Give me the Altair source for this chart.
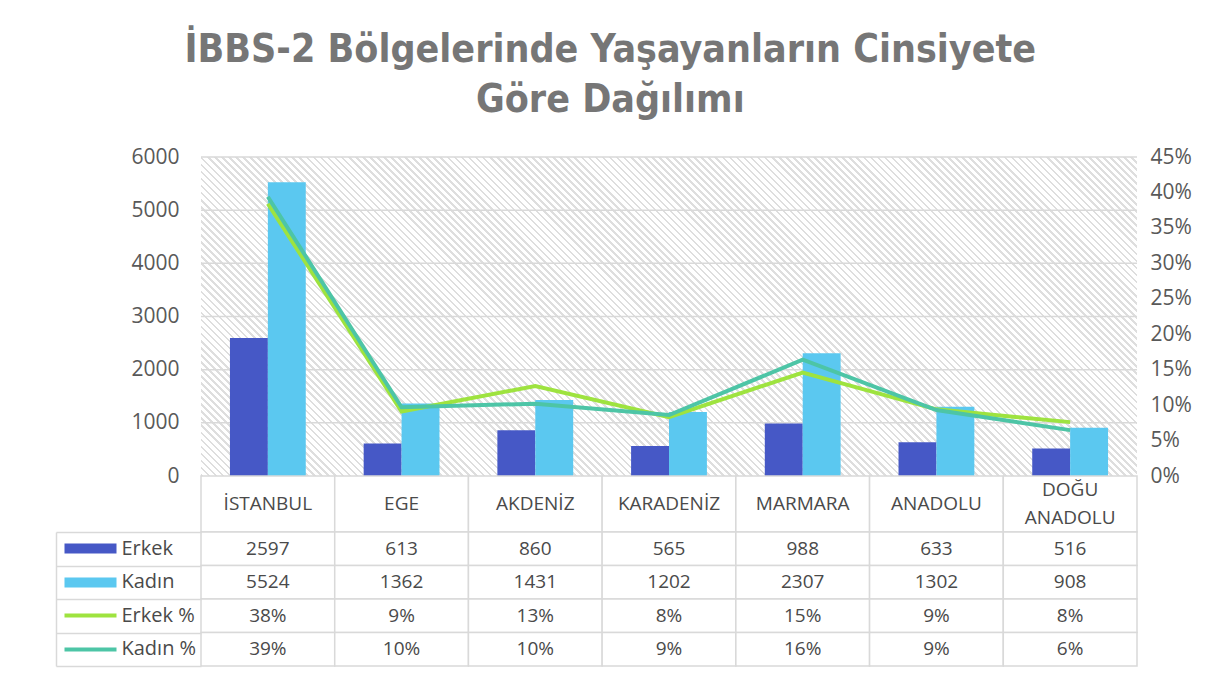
import altair as alt
import pandas as pd

# ---------------- data ----------------
regions = ["İSTANBUL", "EGE", "AKDENİZ", "KARADENİZ", "MARMARA", "ANADOLU", "DOĞU ANADOLU"]
erkek = [2597, 613, 860, 565, 988, 633, 516]
kadin = [5524, 1362, 1431, 1202, 2307, 1302, 908]
erkek_pct = [0.384, 0.091, 0.127, 0.083, 0.146, 0.094, 0.076]
kadin_pct = [0.394, 0.097, 0.102, 0.086, 0.164, 0.093, 0.0647]
series = ["Erkek", "Kadın", "Erkek %", "Kadın %"]
colors = ["#4658c6", "#5bc8f0", "#9ee33f", "#4dc5a6"]
left_ticks = [0, 1000, 2000, 3000, 4000, 5000, 6000]
right_ticks = [0, 0.05, 0.10, 0.15, 0.20, 0.25, 0.30, 0.35, 0.40, 0.45]

bar_df = pd.DataFrame(
    [{"region": r, "series": "Erkek", "value": v} for r, v in zip(regions, erkek)]
    + [{"region": r, "series": "Kadın", "value": v} for r, v in zip(regions, kadin)]
)
line_e_df = pd.DataFrame({"region": regions, "series": "Erkek %", "pct": erkek_pct})
line_k_df = pd.DataFrame({"region": regions, "series": "Kadın %", "pct": kadin_pct})
grid_df = pd.DataFrame({"value": left_ticks[1:]})

rows = series
body_df = pd.DataFrame(
    [{"row": "Erkek", "region": r, "txt": str(v)} for r, v in zip(regions, erkek)]
    + [{"row": "Kadın", "region": r, "txt": str(v)} for r, v in zip(regions, kadin)]
    + [{"row": "Erkek %", "region": r, "txt": f"{round(v * 100)}%"} for r, v in zip(regions, erkek_pct)]
    + [{"row": "Kadın %", "region": r, "txt": f"{round(v * 100)}%"} for r, v in zip(regions, kadin_pct)]
)
hdr_df = pd.DataFrame({"region": regions})

# ---------------- styling ----------------
W, H = 936, 319
HDR_H, BODY_H = 56, 134
FONT = "Open Sans"
TXT = "#595959"
TAB_TXT = "#4a4a4a"
GRID = "#d9d9d9"

# diagonal hatch for the plot background, as a striped linear gradient
N = 178
s = (W + H) / (W * W + H * H)
stops = []
for k in range(N):
    a, b, c = k / N, (k + 0.38) / N, (k + 1) / N
    stops += [
        {"offset": a, "color": "#dedede"},
        {"offset": b, "color": "#dedede"},
        {"offset": b, "color": "#ffffff"},
        {"offset": c, "color": "#ffffff"},
    ]
hatch = {"gradient": "linear", "x1": 0, "y1": 1, "x2": s * W, "y2": 1 - s * H, "stops": stops}

color = alt.Color("series:N", scale=alt.Scale(domain=series, range=colors), legend=None)
x_top = alt.X("region:N", sort=regions, axis=None,
              scale=alt.Scale(paddingInner=0.433, paddingOuter=0.2165))
y_left = alt.Y("value:Q", scale=alt.Scale(domain=[0, 6000], nice=False),
               axis=alt.Axis(values=left_ticks, format="d", title=None, domain=False,
                             ticks=False, grid=False, labelPadding=22, labelFontSize=21,
                             labelColor=TXT, labelFont=FONT))

bg = alt.Chart(pd.DataFrame({"bg": [0]})).mark_rect(fill=hatch, strokeWidth=0).encode(
    opacity=alt.value(1))

rules = alt.Chart(grid_df).mark_rule(color=GRID, strokeWidth=1.5).encode(y=y_left)

bars = alt.Chart(bar_df).mark_bar().encode(
    x=x_top,
    xOffset=alt.XOffset("series:N", sort=["Erkek", "Kadın"],
                        scale=alt.Scale(paddingInner=0, paddingOuter=0)),
    y=y_left,
    color=color,
)

y_pct = alt.Y("pct:Q", scale=alt.Scale(domain=[0, 0.45], nice=False),
              axis=alt.Axis(orient="right", values=right_ticks, format=".0%", title=None,
                            domain=False, ticks=False, grid=False, labelPadding=13,
                            labelFontSize=21, labelColor=TXT, labelFont=FONT))
line_e = alt.Chart(line_e_df).mark_line(strokeWidth=4).encode(x=x_top, y=y_pct, color=color)
line_k = alt.Chart(line_k_df).mark_line(strokeWidth=4).encode(x=x_top, y=y_pct, color=color)

top = (
    alt.layer(bg, alt.layer(rules, bars), alt.layer(line_e, line_k))
    .resolve_scale(y="independent")
    .properties(width=W, height=H)
)

x_tab = alt.X("region:N", sort=regions, axis=None,
              scale=alt.Scale(paddingInner=0, paddingOuter=0))

hdr_text = dict(font=FONT, fontSize=19, color=TAB_TXT, lineBreak=" ", lineHeight=28)
hdr = alt.layer(
    alt.Chart(hdr_df).mark_rect(fill="white", stroke=GRID, strokeWidth=1.5).encode(x=x_tab),
    alt.Chart(hdr_df).mark_text(**hdr_text).encode(x=x_tab, text="region:N")
    .transform_filter("indexof(datum.region, ' ') < 0"),
    alt.Chart(hdr_df).mark_text(dy=-14, **hdr_text).encode(x=x_tab, text="region:N")
    .transform_filter("indexof(datum.region, ' ') >= 0"),
).properties(width=W, height=HDR_H)

tick_color = {
    "condition": [
        {"test": "datum.value === 'Erkek'", "value": colors[0]},
        {"test": "datum.value === 'Kadın'", "value": colors[1]},
        {"test": "datum.value === 'Erkek %'", "value": colors[2]},
    ],
    "value": colors[3],
}
tick_width = {
    "condition": {"test": "datum.value === 'Erkek' || datum.value === 'Kadın'", "value": 10},
    "value": 4,
}

y_cells = alt.Y("row:N", sort=rows, scale=alt.Scale(paddingInner=0, paddingOuter=0),
                axis=alt.Axis(orient="right", offset=-(W + 145), title=None, labels=False,
                              grid=False, domain=True, domainColor=GRID, domainWidth=1.5,
                              ticks=True, tickBand="extent", tickSize=145,
                              tickColor=GRID, tickWidth=1.5))
y_text = alt.Y("row:N", sort=rows, scale=alt.Scale(paddingInner=0, paddingOuter=0),
               axis=alt.Axis(orient="left", offset=85, title=None, grid=False, domain=False,
                             ticks=True, tickSize=52, tickColor=tick_color, tickWidth=tick_width,
                             labelPadding=-57, labelAlign="left", labelFont=FONT,
                             labelFontSize=20, labelColor=TAB_TXT))

body = alt.layer(
    alt.Chart(body_df).mark_rect(fill="white", stroke=GRID, strokeWidth=1.5).encode(x=x_tab, y=y_cells),
    alt.Chart(body_df).mark_text(font=FONT, fontSize=19, color=TAB_TXT).encode(x=x_tab, y=y_text, text="txt:N"),
).resolve_axis(y="independent").properties(width=W, height=BODY_H)

chart = (
    alt.vconcat(
        top, hdr, body, spacing=0, bounds="flush",
        title=alt.TitleParams(
            ["İBBS-2 Bölgelerinde Yaşayanların Cinsiyete", "Göre Dağılımı"],
            font="DejaVu Sans Condensed", fontSize=39, fontWeight="bold", color="#767676",
            lineHeight=50, anchor="middle", offset=26, dx=-13,
        ),
    )
    .resolve_scale(x="independent", y="independent")
    .configure_view(stroke=None)
    .properties(padding={"left": 47, "top": 23, "right": 5, "bottom": 5})
)

chart.save("out.html", embed_options={"renderer": "svg", "actions": False})
